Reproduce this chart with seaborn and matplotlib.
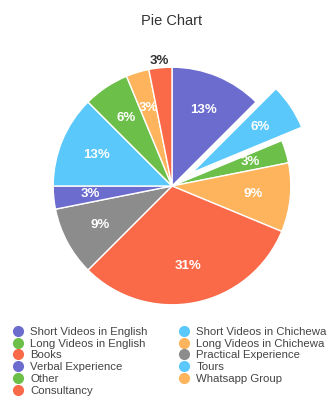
import math
import matplotlib
matplotlib.use("Agg")
import matplotlib.pyplot as plt
import seaborn as sns
from matplotlib.lines import Line2D

sns.set_theme(style="white")
plt.rcParams['font.family'] = ['Liberation Sans', 'DejaVu Sans']

categories = ["Short Videos in English", "Short Videos in Chichewa", "Long Videos in English",
              "Long Videos in Chichewa", "Books", "Practical Experience", "Verbal Experience",
              "Tours", "Other", "Whatsapp Group", "Consultancy"]
values = [4, 2, 1, 3, 10, 3, 1, 4, 2, 1, 1]
colors = ["#6C6CCF", "#5AC8FA", "#6CC04A", "#FDB45C", "#FA6A48", "#8C8C8C", "#6C6CCF",
          "#5AC8FA", "#6CC04A", "#FDB45C", "#FA6A48"]
explode = [0, 0.2, 0, 0, 0, 0, 0, 0, 0, 0, 0]

fig = plt.figure(figsize=(3.3, 4.05), dpi=100)
ax = fig.add_axes([28/330, 75/405, 288/330, 288/405])
wedges, texts, autotexts = ax.pie(values, colors=colors, explode=explode, startangle=90,
                                  counterclock=False, radius=0.99,
                                  autopct=lambda p: f"{math.floor(p + 0.5)}%",
                                  pctdistance=0.69,
                                  wedgeprops=dict(edgecolor="white", linewidth=1),
                                  textprops=dict(color="white", fontsize=9.5, fontweight="bold"))
ax.set_xlim(-1.2, 1.2)
ax.set_ylim(-1.2, 1.2)
ax.set_aspect("equal")
ax.axis("off")

# Consultancy label outside the pie
t = autotexts[-1]
x, y = t.get_position()
t.set_position((x / 0.69 * 1.06, y / 0.69 * 1.06))
t.set_color("#333333")

fig.text(172/330, 1 - 21/405, "Pie Chart", ha="center", va="center", fontsize=10.5, color="#333333")

handles = [Line2D([], [], marker="o", linestyle="", markersize=7, markerfacecolor=c,
                  markeredgecolor=c) for c in colors]
col1 = [0, 2, 4, 6, 8, 10]
col2 = [1, 3, 5, 7, 9]
common = dict(loc="upper left", frameon=False, fontsize=8.2, labelspacing=0.15,
              handletextpad=0.5, handlelength=1.2, borderpad=0, borderaxespad=0,
              labelcolor="#444444")
fig.legend([handles[i] for i in col1], [categories[i] for i in col1],
           bbox_to_anchor=(11/330, 1 - 327/405), **common)
fig.legend([handles[i] for i in col2], [categories[i] for i in col2],
           bbox_to_anchor=(177/330, 1 - 327/405), **common)

fig.savefig("out.png", dpi=100)
